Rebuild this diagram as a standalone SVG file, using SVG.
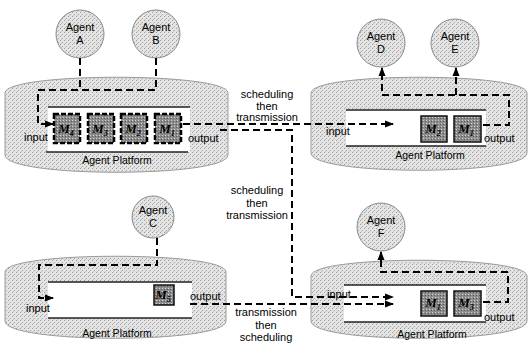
<svg xmlns="http://www.w3.org/2000/svg" width="528" height="343" viewBox="0 0 528 343">
<defs>
<pattern id="stip" width="4" height="4" patternUnits="userSpaceOnUse"><rect width="4" height="4" fill="#e4e4e4"/><rect x="0" y="0" width="1" height="1" fill="#9c9c9c"/><rect x="2" y="2" width="1" height="1" fill="#a4a4a4"/><rect x="1" y="3" width="1" height="1" fill="#c2c2c2"/></pattern>
<pattern id="dark" width="3" height="3" patternUnits="userSpaceOnUse"><rect width="3" height="3" fill="#8c8c8c"/><rect x="0" y="0" width="1" height="1" fill="#d0d0d0"/><rect x="2" y="1" width="1" height="1" fill="#5a5a5a"/></pattern>
<marker id="ah" markerWidth="9" markerHeight="8" refX="8" refY="4" orient="auto" markerUnits="userSpaceOnUse"><path d="M0,0.5 L9,4 L0,7.5 Z" fill="#000"/></marker>
</defs>
<style>
.plat{fill:url(#stip);stroke:#9a9a9a;stroke-width:1}
.agent{fill:url(#stip);stroke:#8a8a8a;stroke-width:1}
.queue{fill:#fff}
.qline{stroke:#222;stroke-width:1.3}
.msg{fill:url(#dark);stroke:#111;stroke-width:1.5}
.msgd{fill:url(#dark);stroke:#000;stroke-width:2.5;stroke-dasharray:5 2}
.dash{fill:none;stroke:#000;stroke-width:2;stroke-dasharray:7 4}
text{font-family:"Liberation Sans",Arial,sans-serif;fill:#000}
.t{font-size:11px}
.pl{font-size:10.5px;text-anchor:middle}
.ag{font-size:11px;text-anchor:middle}
.lab{font-size:11px;text-anchor:middle}
.m{font-family:"Liberation Serif","Times New Roman",serif;font-style:italic;font-weight:bold;font-size:13px;text-anchor:middle}
.sub{font-size:8px}
</style>

<g id="platform-tl">
<path class="plat" d="M5,93 C5,72 228,72 228,93 L228,155 C228,178 5,178 5,155 Z"/>
<rect class="queue" x="48" y="107" width="142" height="45"/>
<line class="qline" x1="48" y1="107" x2="190" y2="107"/>
<line class="qline" x1="46" y1="152" x2="188" y2="152"/>
<rect class="msgd" x="54" y="114" width="26" height="29"/>
<text class="m" x="66" y="133">M<tspan class="sub" dy="3">4</tspan></text>
<rect class="msgd" x="88" y="114" width="26" height="29"/>
<text class="m" x="100" y="133">M<tspan class="sub" dy="3">3</tspan></text>
<rect class="msgd" x="121" y="114" width="26" height="29"/>
<text class="m" x="133" y="133">M<tspan class="sub" dy="3">2</tspan></text>
<rect class="msgd" x="155" y="114" width="26" height="29"/>
<text class="m" x="167" y="133">M<tspan class="sub" dy="3">1</tspan></text>
<text class="t" x="24" y="141">input</text>
<text class="t" x="188" y="142">output</text>
<text class="pl" x="117" y="164">Agent Platform</text>
</g>

<g id="platform-tr">
<path class="plat" d="M311,93 C311,72 527,72 527,93 L527,153 C527,176 311,176 311,153 Z"/>
<rect class="queue" x="346" y="110" width="140" height="36"/>
<line class="qline" x1="346" y1="110" x2="486" y2="110"/>
<line class="qline" x1="346" y1="146" x2="486" y2="146"/>
<rect class="msg" x="421" y="116" width="26" height="26"/>
<text class="m" x="433" y="133">M<tspan class="sub" dy="3">2</tspan></text>
<rect class="msg" x="454" y="116" width="27" height="26"/>
<text class="m" x="466" y="133">M<tspan class="sub" dy="3">1</tspan></text>
<text class="t" x="326" y="135">input</text>
<text class="t" x="484" y="142">output</text>
<text class="pl" x="430" y="159">Agent Platform</text>
</g>

<g id="platform-bl">
<path class="plat" d="M5,272 C5,251 226,251 226,272 L226,321 C226,344 5,344 5,321 Z"/>
<rect class="queue" x="48" y="282" width="144" height="36"/>
<line class="qline" x1="48" y1="282" x2="192" y2="282"/>
<line class="qline" x1="48" y1="318" x2="192" y2="318"/>
<rect class="msg" x="154" y="285" width="20" height="20"/>
<text class="m" x="163" y="299">M<tspan class="sub" dy="3">5</tspan></text>
<text class="t" x="26" y="312">input</text>
<text class="t" x="190" y="300">output</text>
<text class="pl" x="117" y="337">Agent Platform</text>
</g>

<g id="platform-br">
<path class="plat" d="M311,276 C311,255 527,255 527,276 L527,321 C527,344 311,344 311,321 Z"/>
<rect class="queue" x="344" y="285" width="142" height="37"/>
<line class="qline" x1="344" y1="285" x2="486" y2="285"/>
<line class="qline" x1="344" y1="322" x2="486" y2="322"/>
<rect class="msg" x="421" y="291" width="26" height="25"/>
<text class="m" x="433" y="307">M<tspan class="sub" dy="3">1</tspan></text>
<rect class="msg" x="454" y="291" width="27" height="25"/>
<text class="m" x="466" y="307">M<tspan class="sub" dy="3">3</tspan></text>
<text class="t" x="327" y="298">input</text>
<text class="t" x="484" y="321">output</text>
<text class="pl" x="432" y="338">Agent Platform</text>
</g>

<g id="agent-a"><circle class="agent" cx="80" cy="34" r="24"/><text class="ag" x="80" y="31">Agent</text><text class="ag" x="80" y="44">A</text></g>
<g id="agent-b"><circle class="agent" cx="156" cy="34" r="24"/><text class="ag" x="156" y="31">Agent</text><text class="ag" x="156" y="44">B</text></g>
<g id="agent-c"><circle class="agent" cx="153" cy="217" r="21"/><text class="ag" x="153" y="214">Agent</text><text class="ag" x="153" y="227">C</text></g>
<g id="agent-d"><circle class="agent" cx="381" cy="43" r="24"/><text class="ag" x="381" y="40">Agent</text><text class="ag" x="381" y="53">D</text></g>
<g id="agent-e"><circle class="agent" cx="455" cy="43" r="24"/><text class="ag" x="455" y="40">Agent</text><text class="ag" x="455" y="53">E</text></g>
<g id="agent-f"><circle class="agent" cx="381" cy="227" r="24"/><text class="ag" x="381" y="224">Agent</text><text class="ag" x="381" y="237">F</text></g>

<g id="connectors">
<path class="dash" d="M80,58 V90"/>
<path class="dash" d="M156,58 V90 H38 V124 H53" marker-end="url(#ah)"/>
<path class="dash" d="M183,124 H393" marker-end="url(#ah)"/>
<path class="dash" d="M220,130 H292 V297 H393" marker-end="url(#ah)"/>
<path class="dash" d="M483,125 H509 V95 H382 V68" marker-end="url(#ah)"/>
<path class="dash" d="M456,95 V68" marker-end="url(#ah)"/>
<path class="dash" d="M157,238 V265 H39 V298 H53" marker-end="url(#ah)"/>
<path class="dash" d="M190,304 H393" marker-end="url(#ah)"/>
<path class="dash" d="M483,302 H508 V272 H381 V252" marker-end="url(#ah)"/>
</g>

<g id="labels">
<text class="lab" x="267" y="98">scheduling</text>
<text class="lab" x="267" y="110">then</text>
<text class="lab" x="267" y="121">transmission</text>
<text class="lab" x="257" y="194">scheduling</text>
<text class="lab" x="257" y="207">then</text>
<text class="lab" x="257" y="219">transmission</text>
<text class="lab" x="266" y="316">transmission</text>
<text class="lab" x="266" y="329">then</text>
<text class="lab" x="266" y="341">scheduling</text>
</g>
</svg>
